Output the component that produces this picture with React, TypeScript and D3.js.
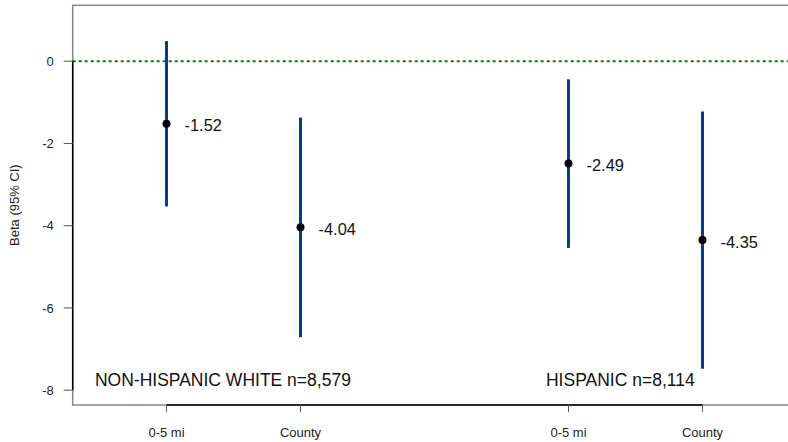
import React from "react";
import * as d3 from "d3";

const categories = ["0-5 mi", "County", "0-5 mi", "County"];
const positions = [1, 2, 4, 5];
const estimates = [-1.52, -4.04, -2.49, -4.35];
const lower = [-3.53, -6.71, -4.54, -7.48];
const upper = [0.49, -1.37, -0.44, -1.22];
const yTicks = [-8, -6, -4, -2, 0];
const groupLabels = ["NON-HISPANIC WHITE n=8,579", "HISPANIC n=8,114"];
const groupLabelX = [0.466, 3.832];
const groupLabelY = [-7.9, -7.9];

const W = 788;
const H = 442;

export default function App() {
  const x = d3.scaleLinear().domain([0.3, 5.7]).range([72.7, 796.3]);
  const y = d3.scaleLinear().domain([-8.36, 1.36]).range([405, 5.3]);
  const font = "'Liberation Sans', Arial, sans-serif";
  return (
    <svg
      width={W}
      height={H}
      style={{ position: "absolute", left: 0, top: 0, display: "block" }}
      fontFamily={font}
    >
      <rect x={0} y={0} width={W} height={H} fill="#fff" />
      {/* box */}
      <rect
        x={x(0.3)}
        y={y(1.36)}
        width={x(5.7) - x(0.3)}
        height={y(-8.36) - y(1.36)}
        fill="none"
        stroke="#888"
        strokeWidth={1.5}
      />
      {/* reference line */}
      <line
        x1={x(0.3)}
        x2={x(5.7)}
        y1={y(0)}
        y2={y(0)}
        stroke="#008000"
        strokeWidth={2}
        strokeDasharray="3,3"
      />
      {/* y axis */}
      <line x1={x(0.3)} x2={x(0.3)} y1={y(0)} y2={y(-8)} stroke="#000" strokeWidth={1.5} />
      {yTicks.map((t) => (
        <g key={t}>
          <line x1={x(0.3) - 9} x2={x(0.3)} y1={y(t)} y2={y(t)} stroke="#555" strokeWidth={1} />
          <text x={x(0.3) - 19} y={y(t)} dy="0.35em" textAnchor="end" fontSize={13} fill="#222">
            {t}
          </text>
        </g>
      ))}
      <text
        transform={`translate(19,${(y(1.36) + y(-8.36)) / 2}) rotate(-90)`}
        textAnchor="middle"
        fontSize={13}
        fill="#222"
      >
        Beta (95% CI)
      </text>
      {/* x axis */}
      <line
        x1={x(positions[0])}
        x2={x(positions[positions.length - 1])}
        y1={y(-8.36)}
        y2={y(-8.36)}
        stroke="#000"
        strokeWidth={1.5}
      />
      {positions.map((p, i) => (
        <g key={i}>
          <line x1={x(p)} x2={x(p)} y1={y(-8.36)} y2={y(-8.36) + 7} stroke="#555" strokeWidth={1} />
          <text x={x(p)} y={y(-8.36) + 32} textAnchor="middle" fontSize={13} fill="#222">
            {categories[i]}
          </text>
        </g>
      ))}
      {/* error bars */}
      {positions.map((p, i) => (
        <g key={"e" + i}>
          <line x1={x(p)} x2={x(p)} y1={y(upper[i])} y2={y(lower[i])} stroke="#003f87" strokeWidth={3} />
          <circle cx={x(p)} cy={y(estimates[i])} r={4} fill="#000" />
          <text x={x(p) + 18} y={y(estimates[i]) + 2} dy="0.35em" fontSize={16.4} fill="#111">
            {estimates[i].toFixed(2)}
          </text>
        </g>
      ))}
      {groupLabels.map((g, i) => (
        <text key={g} x={x(groupLabelX[i])} y={y(groupLabelY[i])} fontSize={17.5} fill="#111">
          {g}
        </text>
      ))}
    </svg>
  );
}
